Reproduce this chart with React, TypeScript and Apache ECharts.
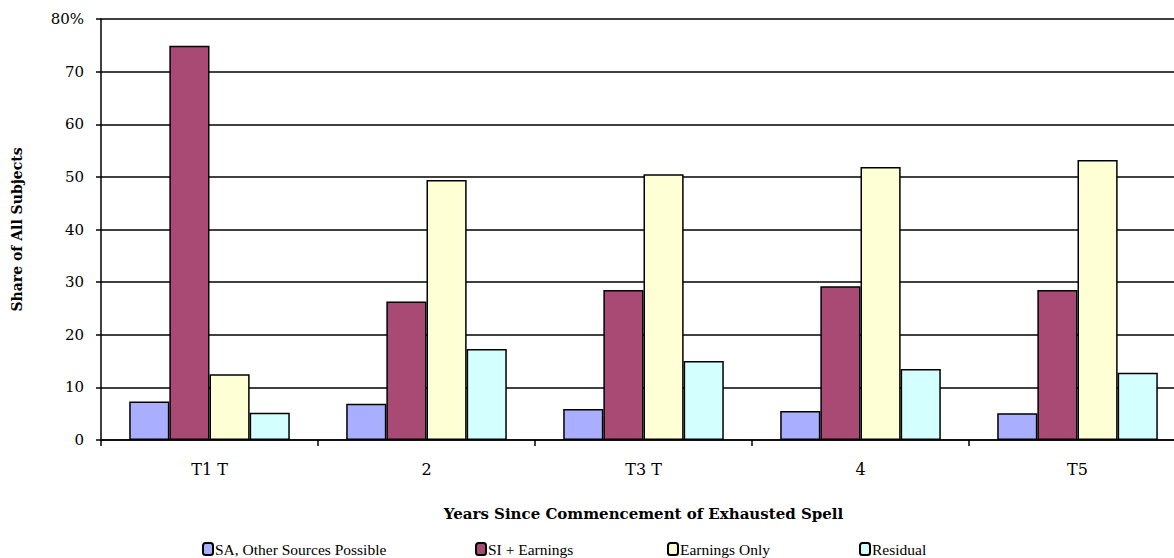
import React, { useEffect, useRef } from "react";
import * as echarts from "echarts";

const categories = ["T1 T", "2", "T3 T", "4", "T5"];
const seriesNames = ["SA, Other Sources Possible", "SI + Earnings", "Earnings Only", "Residual"];
const saValues = [7.3, 6.9, 5.9, 5.5, 5.1];
const siValues = [74.9, 26.3, 28.5, 29.2, 28.5];
const earningsValues = [12.5, 49.4, 50.5, 51.9, 53.2];
const residualValues = [5.2, 17.3, 15.0, 13.5, 12.8];
const colors = ["#AAAEFF", "#A94A75", "#FFFFD6", "#D4FFFF"];
const legendLefts = [202, 475, 667, 859];

const FONT = "'DejaVu Serif', serif";
const LEGEND_FONT = "'Liberation Serif', serif";

export default function App() {
  const ref = useRef<HTMLDivElement>(null);
  useEffect(() => {
    const chart = echarts.init(ref.current!, null, { renderer: "svg" });
    const values = [saValues, siValues, earningsValues, residualValues];
    chart.setOption({
      animation: false,
      backgroundColor: "#fff",
      textStyle: { fontFamily: FONT },
      grid: { left: 101, right: -12, top: 19, bottom: 118, containLabel: false, outerBoundsMode: "none" },
      legend: seriesNames.map((n, i) => ({
        data: [n],
        left: legendLefts[i],
        top: 541,
        itemWidth: 10,
        itemHeight: 12,
        itemGap: 0,
        padding: 0,
        textStyle: { fontFamily: LEGEND_FONT, fontSize: 15.5, color: "#000", padding: [0, 0, 0, -3] },
      })),
      xAxis: {
        type: "category",
        data: categories,
        name: "Years Since Commencement of Exhausted Spell",
        nameLocation: "middle",
        nameGap: 66,
        nameTextStyle: { fontFamily: FONT, fontSize: 15, fontWeight: "bold", color: "#000" },
        axisLine: { lineStyle: { color: "#000", width: 1.5 } },
        axisTick: { show: true, length: 6, lineStyle: { color: "#000", width: 1.5 } },
        axisLabel: { fontFamily: FONT, fontSize: 16, color: "#000", margin: 21 },
      },
      yAxis: {
        type: "value",
        min: 0,
        max: 80,
        interval: 10,
        name: "Share of All Subjects",
        nameLocation: "middle",
        nameGap: 77,
        nameTextStyle: { fontFamily: FONT, fontSize: 14, fontWeight: "bold", color: "#000" },
        axisLine: { show: true, lineStyle: { color: "#000", width: 1.5 } },
        axisTick: { show: true, length: 5, lineStyle: { color: "#000", width: 1.5 } },
        axisLabel: {
          fontFamily: FONT,
          fontSize: 15,
          color: "#000",
          margin: 17,
          formatter: (v: number) => (v === 80 ? "80%" : String(v)),
        },
        splitLine: { show: true, lineStyle: { color: "#000", width: 1.5 } },
      },
      series: seriesNames.map((n, i) => ({
        name: n,
        type: "bar",
        data: values[i],
        barGap: "0%",
        barCategoryGap: "26%",
        itemStyle: { color: colors[i], borderColor: "#000", borderWidth: 1.5 },
      })),
    });
    return () => chart.dispose();
  }, []);
  return (
    <div
      ref={ref}
      style={{ position: "fixed", left: 0, top: 0, width: 1174, height: 558 }}
    />
  );
}
